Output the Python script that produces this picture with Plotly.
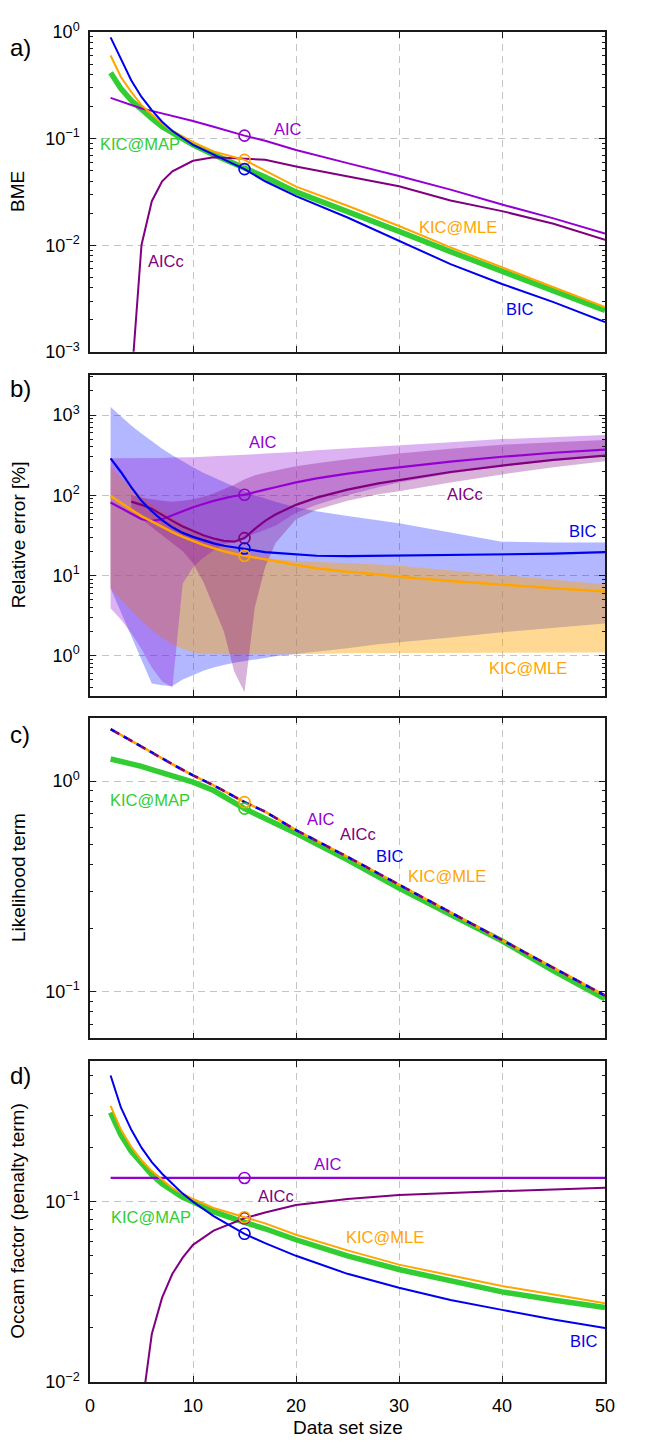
import math
import plotly.graph_objects as go

# ---------------- DATA (exponents) ----------------
# Panel a: BME
a_n = [2, 3, 4, 5, 6, 7, 8, 10, 12, 15, 17, 20, 25, 30, 35, 40, 45, 50]
a_bic = [-0.050, -0.252, -0.453, -0.609, -0.733, -0.842, -0.929, -1.059, -1.152, -1.286, -1.40, -1.54, -1.74, -1.96, -2.177, -2.363, -2.534, -2.720]
a_map = [-0.382, -0.531, -0.640, -0.733, -0.811, -0.888, -0.950, -1.059, -1.150, -1.270, -1.36, -1.50, -1.68, -1.87, -2.06, -2.24, -2.425, -2.612]
a_mle = [-0.220, -0.422, -0.562, -0.686, -0.773, -0.857, -0.929, -1.034, -1.121, -1.199, -1.30, -1.45, -1.63, -1.82, -2.02, -2.208, -2.394, -2.581]
a_aic = [-0.618, -0.650, -0.684, -0.717, -0.740, -0.763, -0.786, -0.835, -0.888, -0.972, -1.02, -1.106, -1.23, -1.35, -1.478, -1.618, -1.748, -1.891]
a_aicc = [None, None, -3.3, -1.997, -1.587, -1.401, -1.307, -1.208, -1.174, -1.189, -1.199, -1.261, -1.354, -1.447, -1.581, -1.680, -1.798, -1.950]

# Panel b: relative error [%] (lines and shaded ranges)
b_n = [2, 3, 4, 5, 6, 7, 8, 9, 10, 11, 12, 13, 14, 15, 16, 17, 18, 20, 22, 25, 28, 30, 35, 40, 45, 50]
b_bic = [2.46, 2.29, 2.10, 1.93, 1.80, 1.69, 1.60, 1.53, 1.48, 1.44, 1.40, 1.37, 1.35, 1.335, 1.31, 1.29, 1.28, 1.26, 1.245, 1.24, 1.245, 1.25, 1.255, 1.26, 1.27, 1.29]
b_mle = [1.99, 1.90, 1.82, 1.74, 1.67, 1.60, 1.54, 1.48, 1.43, 1.38, 1.34, 1.30, 1.27, 1.245, 1.22, 1.20, 1.18, 1.13, 1.09, 1.045, 1.012, 0.984, 0.93, 0.881, 0.84, 0.80]
b_aic = [1.91, 1.84, 1.76, 1.70, 1.68, 1.70, 1.75, 1.80, 1.85, 1.89, 1.93, 1.96, 1.99, 2.005, 2.04, 2.07, 2.10, 2.16, 2.21, 2.27, 2.32, 2.35, 2.42, 2.48, 2.53, 2.568]
b_aicc = [None, None, 1.92, 1.88, 1.83, 1.75, 1.68, 1.61, 1.55, 1.50, 1.46, 1.43, 1.42, 1.465, 1.58, 1.68, 1.76, 1.88, 1.97, 2.07, 2.148, 2.19, 2.29, 2.37, 2.44, 2.494]
b_bic_hi = [3.10, 2.98, 2.87, 2.77, 2.67, 2.58, 2.50, 2.42, 2.35, 2.28, 2.22, 2.16, 2.10, 2.05, 2.00, 1.96, 1.92, 1.85, 1.80, 1.74, 1.685, 1.65, 1.535, 1.42, 1.41, 1.41]
b_bic_lo = [0.84, 0.55, 0.25, -0.05, -0.35, -0.37, -0.38, -0.30, -0.24, -0.19, -0.15, -0.12, -0.09, -0.07, -0.05, -0.03, -0.01, 0.016, 0.05, 0.09, 0.139, 0.16, 0.225, 0.29, 0.345, 0.399]
b_mle_hi = [2.36, 2.22, 2.10, 1.99, 1.89, 1.80, 1.72, 1.64, 1.57, 1.49, 1.42, 1.36, 1.31, 1.27, 1.24, 1.22, 1.20, 1.18, 1.17, 1.15, 1.136, 1.12, 1.06, 1.00, 0.94, 0.889]
b_mle_lo = [0.84, 0.70, 0.56, 0.43, 0.32, 0.22, 0.14, 0.08, 0.04, 0.02, 0.015, 0.015, 0.015, 0.015, 0.015, 0.015, 0.015, 0.016, 0.02, 0.028, 0.035, 0.037, 0.037, 0.037, 0.037, 0.037]
b_aic_hi = [2.46, 2.46, 2.46, 2.46, 2.46, 2.465, 2.47, 2.47, 2.475, 2.48, 2.485, 2.49, 2.50, 2.505, 2.51, 2.52, 2.525, 2.54, 2.56, 2.585, 2.609, 2.62, 2.66, 2.70, 2.73, 2.753]
b_aic_lo = [0.59, 0.45, 0.28, 0.08, -0.15, -0.32, -0.40, 0.90, 1.10, 1.22, 1.31, 1.38, 1.43, 1.47, 1.52, 1.57, 1.62, 1.78, 1.88, 2.00, 2.10, 2.16, 2.27, 2.36, 2.43, 2.485]
b_aicc_hi = [None, None, 2.00, 1.97, 1.95, 1.93, 1.92, 1.93, 1.95, 1.98, 2.02, 2.07, 2.13, 2.20, 2.25, 2.28, 2.31, 2.36, 2.40, 2.45, 2.494, 2.52, 2.58, 2.63, 2.66, 2.69]
b_aicc_lo = [None, None, 1.80, 1.70, 1.60, 1.50, 1.40, 1.30, 1.15, 0.92, 0.60, 0.30, -0.20, -0.46, 0.60, 1.10, 1.40, 1.70, 1.82, 1.93, 2.012, 2.05, 2.16, 2.26, 2.35, 2.423]

# Panel c: likelihood term (AIC, AICc, BIC and KIC@MLE share one curve)
c_n = [2, 3, 4, 5, 6, 8, 10, 12, 15, 17, 20, 25, 30, 35, 40, 45, 50]
c_lik = [0.247, 0.22, 0.19, 0.163, 0.136, 0.08, 0.027, -0.02, -0.10, -0.145, -0.233, -0.36, -0.492, -0.62, -0.752, -0.885, -1.019]
c_map = [0.105, 0.095, 0.083, 0.07, 0.055, 0.025, -0.005, -0.045, -0.131, -0.178, -0.248, -0.374, -0.508, -0.634, -0.759, -0.901, -1.035]

# Panel d: Occam factor (penalty term)
d_n = [2, 3, 4, 5, 6, 7, 8, 9, 10, 12, 15, 17, 20, 25, 30, 35, 40, 45, 50]
d_bic = [-0.30, -0.477, -0.60, -0.70, -0.78, -0.845, -0.90, -0.955, -1.0, -1.08, -1.178, -1.23, -1.30, -1.40, -1.477, -1.545, -1.60, -1.653, -1.70]
d_mle = [-0.468, -0.60, -0.695, -0.77, -0.83, -0.88, -0.925, -0.955, -0.985, -1.035, -1.086, -1.12, -1.183, -1.27, -1.349, -1.41, -1.468, -1.515, -1.563]
d_map = [-0.505, -0.63, -0.72, -0.79, -0.85, -0.90, -0.94, -0.975, -1.0, -1.055, -1.115, -1.15, -1.211, -1.30, -1.376, -1.44, -1.50, -1.545, -1.587]
d_aic = [-0.868, -0.868, -0.868, -0.868, -0.868, -0.868, -0.868, -0.868, -0.868, -0.868, -0.868, -0.868, -0.868, -0.868, -0.868, -0.868, -0.868, -0.868, -0.868]
d_aicc = [None, None, -3.0, -2.16, -1.734, -1.532, -1.40, -1.31, -1.239, -1.16, -1.092, -1.06, -1.018, -0.985, -0.963, -0.95, -0.941, -0.932, -0.923]

MARK_N = 15  # data set size highlighted with circles

# ---------------- STYLE ----------------
C_AIC = "#9400D3"
C_AICC = "#800080"
C_BIC = "#0000EE"
C_MLE = "#FFA500"
C_MAP = "#32CD32"
FONT = "Liberation Sans, Arial, Helvetica, sans-serif"


def pw(vals):
    return [None if v is None else 10 ** v for v in vals]


fig = go.Figure()


def line(xs, ys, color, ax, width=2.0, dash="solid"):
    fig.add_trace(go.Scatter(x=xs, y=pw(ys), mode="lines", xaxis=ax[0], yaxis=ax[1],
                             line=dict(color=color, width=width, dash=dash),
                             hoverinfo="skip", connectgaps=False))


def circle(xs, ys, color, ax):
    i = xs.index(MARK_N)
    fig.add_trace(go.Scatter(x=[xs[i]], y=pw([ys[i]]), mode="markers", xaxis=ax[0], yaxis=ax[1],
                             marker=dict(symbol="circle-open", size=11, color=color, line=dict(width=1.6)),
                             hoverinfo="skip"))


def band(xs, hi, lo, fillcolor, ax):
    pts = [(x, h, l) for x, h, l in zip(xs, hi, lo) if h is not None]
    px = [p[0] for p in pts] + [p[0] for p in pts[::-1]]
    py = [p[1] for p in pts] + [p[2] for p in pts[::-1]]
    fig.add_trace(go.Scatter(x=px, y=pw(py), mode="lines", fill="toself", fillcolor=fillcolor,
                             line=dict(width=0, color="rgba(0,0,0,0)"), xaxis=ax[0], yaxis=ax[1],
                             hoverinfo="skip"))


A = ("x", "y")
B = ("x2", "y2")
C = ("x3", "y3")
D = ("x4", "y4")

# Panel a
line(a_n, a_map, C_MAP, A, width=5.5)
line(a_n, a_aicc, C_AICC, A)
line(a_n, a_aic, C_AIC, A)
line(a_n, a_mle, C_MLE, A)
line(a_n, a_bic, C_BIC, A)
circle(a_n, a_aic, C_AIC, A)
circle(a_n, a_mle, C_MLE, A)
circle(a_n, a_bic, C_BIC, A)

# Panel b
band(b_n, b_bic_hi, b_bic_lo, "rgba(20,35,255,0.33)", B)
band(b_n, b_mle_hi, b_mle_lo, "rgba(255,165,0,0.42)", B)
band(b_n, b_aic_hi, b_aic_lo, "rgba(150,20,215,0.33)", B)
band(b_n, b_aicc_hi, b_aicc_lo, "rgba(128,0,128,0.30)", B)
line(b_n, b_aic, C_AIC, B, width=2.2)
line(b_n, b_aicc, C_AICC, B, width=2.2)
line(b_n, b_mle, C_MLE, B, width=2.5)
line(b_n, b_bic, C_BIC, B, width=2.2)
circle(b_n, b_aic, C_AIC, B)
circle(b_n, b_aicc, C_AICC, B)
circle(b_n, b_bic, C_BIC, B)
circle(b_n, b_mle, C_MLE, B)

# Panel c
line(c_n, c_map, C_MAP, C, width=5.5)
line(c_n, c_lik, C_MLE, C, width=2.6)
line(c_n, c_lik, C_BIC, C, width=2.6, dash="5px,10px")
line(c_n, c_lik, C_AICC, C, width=2.6, dash="0px,5px,5px,5px")
circle(c_n, c_map, C_MAP, C)
circle(c_n, c_lik, C_MLE, C)

# Panel d
line(d_n, d_map, C_MAP, D, width=5.5)
line(d_n, d_aicc, C_AICC, D)
line(d_n, d_aic, C_AIC, D, width=2.2)
line(d_n, d_mle, C_MLE, D)
line(d_n, d_bic, C_BIC, D)
circle(d_n, d_aic, C_AIC, D)
circle(d_n, d_bic, C_BIC, D)
circle(d_n, d_aicc, C_AICC, D)
circle(d_n, d_mle, C_MLE, D)

# ---------------- AXES ----------------
# the page body has an 8px margin, so the figure is drawn 8px in from the window corner
FIG_W, FIG_H = 660, 1434
M_L, M_R, M_T, M_B = 82, 63, 15, 60
H_PLOT = FIG_H - M_T - M_B  # 1359
BOT = 1382  # window pixel of the bottom of panel d


def dom(bottom_px, top_px):
    return [(BOT - bottom_px) / H_PLOT, (BOT - top_px) / H_PLOT]


doms = {
    "a": [(BOT - 345) / H_PLOT, 1.0],
    "b": dom(691, 368.3),
    "c": dom(1036, 713.3),
    "d": [0.0, (BOT - 1059.3) / H_PLOT],
}
LINEC = "#1a1a1a"
GRIDC = "#c4c4c4"


def xaxis(anchor, labels):
    return dict(domain=[0, 1], anchor=anchor, range=[0, 50], tickvals=[0, 10, 20, 30, 40, 50],
                ticks="inside", ticklen=6, tickwidth=1.2, tickcolor=LINEC,
                showline=True, linewidth=1.5, linecolor=LINEC, mirror="ticks",
                showgrid=True, gridcolor=GRIDC, gridwidth=1, griddash="7px,5px",
                zeroline=False, showticklabels=labels, tickfont=dict(size=18, color="black"),
                ticklabelstandoff=7)


def sup(e):
    s = str(e).replace("-", "\u2212")
    return "10<sup>" + s + "</sup>"


def yaxis(anchor, dm, lo, hi, decades):
    minors = []
    for d in range(int(lo) - 1, int(hi) + 2):
        for m in range(2, 10):
            v = m * 10 ** d
            if 10 ** lo < v < 10 ** hi:
                minors.append(v)
    return dict(type="log", domain=dm, anchor=anchor, range=[lo, hi],
                tickvals=[10 ** d for d in decades], ticktext=[sup(d) for d in decades],
                ticks="inside", ticklen=6, tickwidth=1.2, tickcolor=LINEC,
                showline=True, linewidth=1.5, linecolor=LINEC, mirror="ticks",
                showgrid=True, gridcolor=GRIDC, gridwidth=1, griddash="7px,5px",
                zeroline=False, tickfont=dict(size=18, color="black"), ticklabelstandoff=5,
                minor=dict(tickvals=minors, ticks="inside", ticklen=3, tickwidth=1,
                           tickcolor=LINEC, showgrid=False))


fig.update_layout(
    width=FIG_W, height=FIG_H,
    margin=dict(l=M_L, r=M_R, t=M_T, b=M_B),
    paper_bgcolor="white", plot_bgcolor="white",
    showlegend=False,
    font=dict(family=FONT, color="black"),
    xaxis=xaxis("y", False),
    xaxis2=xaxis("y2", False),
    xaxis3=xaxis("y3", False),
    xaxis4=xaxis("y4", True),
    yaxis=yaxis("x", doms["a"], -3, 0, [-3, -2, -1, 0]),
    yaxis2=yaxis("x2", doms["b"], -0.5, 3.5, [0, 1, 2, 3]),
    yaxis3=yaxis("x3", doms["c"], math.log10(0.06), math.log10(2), [-1, 0]),
    yaxis4=yaxis("x4", doms["d"], -2, math.log10(0.6), [-2, -1]),
)

ann = []


def lab(text, x, y, color, ax):
    ann.append(dict(text=text, x=x, y=y, xref=ax[0], yref=ax[1], showarrow=False,
                    font=dict(size=16.5, color=color, family=FONT), xanchor="center", yanchor="middle"))


# panel a labels
lab("AIC", 19.2, -0.91, C_AIC, A)
lab("KIC@MAP", 4.9, -1.053, C_MAP, A)
lab("AICc", 7.4, -2.152, C_AICC, A)
lab("KIC@MLE", 35.7, -1.829, C_MLE, A)
lab("BIC", 41.7, -2.596, C_BIC, A)
# panel b labels
lab("AIC", 16.8, 2.663, C_AIC, B)
lab("AICc", 36.4, 2.02, C_AICC, B)
lab("BIC", 47.85, 1.551, C_BIC, B)
lab("KIC@MLE", 42.5, -0.16, C_MLE, B)
# panel c labels
lab("KIC@MAP", 5.8, -0.091, C_MAP, C)
lab("AIC", 22.4, -0.179, C_AIC, C)
lab("AICc", 26.0, -0.252, C_AICC, C)
lab("BIC", 29.1, -0.354, C_BIC, C)
lab("KIC@MLE", 34.7, -0.45, C_MLE, C)
# panel d labels
lab("AIC", 23.1, -0.793, C_AIC, D)
lab("AICc", 18.1, -0.967, C_AICC, D)
lab("KIC@MAP", 5.9, -1.083, C_MAP, D)
lab("KIC@MLE", 28.6, -1.193, C_MLE, D)
lab("BIC", 48.0, -1.774, C_BIC, D)

# axis titles and panel letters (window x of titles ~18px; letters at the figure's left edge)
PLOT_W = FIG_W - M_L - M_R
TITLE_X = (18 - 90) / PLOT_W
for ydom, t in [("y domain", "BME"), ("y2 domain", "Relative error [%]"),
                ("y3 domain", "Likelihood term"), ("y4 domain", "Occam factor (penalty term)")]:
    ann.append(dict(text=t, x=TITLE_X, y=0.5, xref="paper", yref=ydom, showarrow=False,
                    textangle=-90, font=dict(size=19, color="black", family=FONT),
                    xanchor="center", yanchor="middle"))

LETTER_X = -M_L / PLOT_W  # left edge of the figure
for ydom, t, yy in [("y domain", "a)", 0.950), ("y2 domain", "b)", 0.958),
                    ("y3 domain", "c)", 0.948), ("y4 domain", "d)", 0.957)]:
    ann.append(dict(text=t, x=LETTER_X, y=yy, xref="paper", yref=ydom, showarrow=False,
                    font=dict(size=24, color="black", family=FONT), xanchor="left", yanchor="middle"))

ann.append(dict(text="Data set size", x=0.5, y=(BOT - 1428) / H_PLOT, xref="paper", yref="paper",
                showarrow=False, font=dict(size=19, color="black", family=FONT),
                xanchor="center", yanchor="middle"))

fig.update_layout(annotations=ann)

fig.write_html("out.html")
